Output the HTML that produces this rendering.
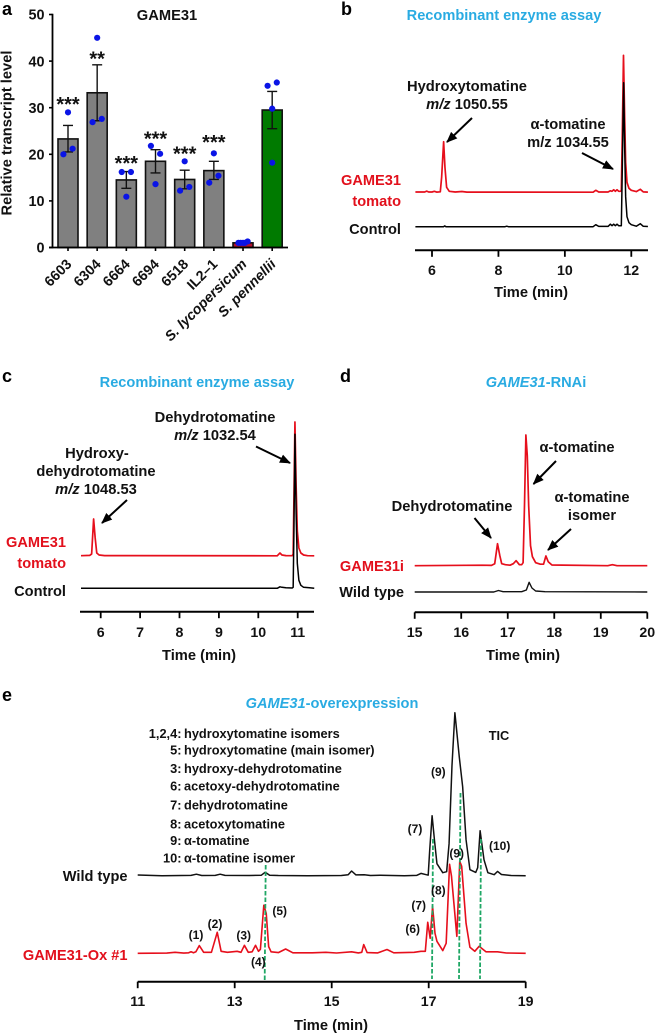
<!DOCTYPE html>
<html lang="en">
<head>
<meta charset="utf-8">
<title>GAME31 figure</title>
<style>
html,body{margin:0;padding:0;background:#fff;}
body{width:655px;height:1034px;overflow:hidden;}
svg{display:block;font-family:"Liberation Sans",sans-serif;font-weight:bold;filter:blur(0.3px);}
svg text{fill:#111;}
.t{font-size:14.5px;}
.h{font-size:14.6px;fill:#29abe2 !important;text-anchor:middle;}
.r{fill:#e2101c !important;text-anchor:end;font-size:14.6px;}
.k{text-anchor:end;font-size:14.6px;}
.m{text-anchor:middle;font-size:14.7px;}
.l{font-size:18px;fill:#000 !important;}
.li{font-size:12.8px;}
.p{font-size:12px;text-anchor:middle;}
.arrow{stroke:#000;stroke-width:2;fill:none;marker-end:url(#arrowhead);}
.guide{stroke:#1fa765;stroke-width:1.8;stroke-dasharray:4.5 2;fill:none;}
</style>
</head>
<body>
<svg id="figure" width="655" height="1034" viewBox="0 0 655 1034" xmlns="http://www.w3.org/2000/svg">
<defs>
<marker id="arrowhead" markerUnits="userSpaceOnUse" markerWidth="12" markerHeight="10" refX="10" refY="5" orient="auto"><path d="M0,0.5 L11,5 L0,9.5 Z" fill="#000"/></marker>
</defs>
<rect width="655" height="1034" fill="#fff"/>

<!-- panel letters -->
<text class="l" x="2" y="15">a</text>
<text class="l" x="341" y="15">b</text>
<text class="l" x="2" y="382">c</text>
<text class="l" x="340" y="382">d</text>
<text class="l" x="2" y="701">e</text>

<!-- panel a static text -->
<g id="panel-a"></g>
<text class="m" x="167" y="20">GAME31</text>
<text class="m" transform="translate(11.5,133) rotate(-90)">Relative transcript level</text>

<!-- panel b -->
<text class="h" x="504" y="20">Recombinant enzyme assay</text>
<g id="panel-b"></g>
<text class="m" x="467" y="91">Hydroxytomatine</text>
<text class="m" x="467" y="109"><tspan font-style="italic">m/z</tspan> 1050.55</text>
<line class="arrow" x1="472" y1="118" x2="447" y2="142"/>
<text class="m" x="568" y="129">α-tomatine</text>
<text class="m" x="568" y="147">m/z 1034.55</text>
<line class="arrow" x1="582" y1="153" x2="613" y2="169"/>
<text class="r" x="401" y="185">GAME31</text>
<text class="r" x="401" y="206">tomato</text>
<text class="k" x="401" y="234">Control</text>
<text class="m" x="531" y="297">Time (min)</text>

<!-- panel c -->
<text class="h" x="197" y="387">Recombinant enzyme assay</text>
<g id="panel-c"></g>
<text class="m" x="215" y="422">Dehydrotomatine</text>
<text class="m" x="215" y="440"><tspan font-style="italic">m/z</tspan> 1032.54</text>
<line class="arrow" x1="256" y1="446.5" x2="290" y2="463"/>
<text class="m" x="97" y="458">Hydroxy-</text>
<text class="m" x="96" y="476">dehydrotomatine</text>
<text class="m" x="96" y="494"><tspan font-style="italic">m/z</tspan> 1048.53</text>
<line class="arrow" x1="127" y1="500" x2="102" y2="523"/>
<text class="r" x="66" y="547">GAME31</text>
<text class="r" x="66" y="568">tomato</text>
<text class="k" x="66" y="596">Control</text>
<text class="m" x="199" y="660">Time (min)</text>

<!-- panel d -->
<text class="h" x="536" y="387"><tspan font-style="italic">GAME31</tspan>-RNAi</text>
<g id="panel-d"></g>
<text class="m" x="577" y="452">α-tomatine</text>
<line class="arrow" x1="556" y1="461" x2="533.5" y2="484"/>
<text class="m" x="452" y="511">Dehydrotomatine</text>
<line class="arrow" x1="474.5" y1="518" x2="491" y2="538"/>
<text class="m" x="592" y="502">α-tomatine</text>
<text class="m" x="592" y="520">isomer</text>
<line class="arrow" x1="571" y1="529" x2="548" y2="550"/>
<text class="r" x="404" y="571">GAME31i</text>
<text class="k" x="404" y="597">Wild type</text>
<text class="m" x="523" y="660">Time (min)</text>

<!-- panel e -->
<text class="h" x="332" y="708"><tspan font-style="italic">GAME31</tspan>-overexpression</text>
<g id="panel-e"></g>
<line class="guide" x1="265.7" y1="865" x2="264.7" y2="980"/>
<line class="guide" x1="433" y1="839" x2="432" y2="979"/>
<line class="guide" x1="460.5" y1="793" x2="459" y2="979"/>
<line class="guide" x1="481" y1="839" x2="480" y2="979"/>
<g>
<text class="li"><tspan x="181.5" y="738" text-anchor="end">1,2,4:</tspan><tspan x="184" y="738">hydroxytomatine isomers</tspan></text>
<text class="li"><tspan x="181.5" y="754.5" text-anchor="end">5:</tspan><tspan x="184" y="754.5">hydroxytomatine (main isomer)</tspan></text>
<text class="li"><tspan x="181.5" y="773" text-anchor="end">3:</tspan><tspan x="184" y="773">hydroxy-dehydrotomatine</tspan></text>
<text class="li"><tspan x="181.5" y="790.5" text-anchor="end">6:</tspan><tspan x="184" y="790.5">acetoxy-dehydrotomatine</tspan></text>
<text class="li"><tspan x="181.5" y="809.5" text-anchor="end">7:</tspan><tspan x="184" y="809.5">dehydrotomatine</tspan></text>
<text class="li"><tspan x="181.5" y="828.5" text-anchor="end">8:</tspan><tspan x="184" y="828.5">acetoxytomatine</tspan></text>
<text class="li"><tspan x="181.5" y="845" text-anchor="end">9:</tspan><tspan x="184" y="845">α-tomatine</tspan></text>
<text class="li"><tspan x="181.5" y="862.5" text-anchor="end">10:</tspan><tspan x="184" y="862.5">α-tomatine isomer</tspan></text>
</g>
<text class="li" x="499" y="740" text-anchor="middle">TIC</text>
<text class="k" x="127.5" y="881">Wild type</text>
<text class="r" x="127.5" y="960">GAME31-Ox #1</text>
<text class="p" x="196" y="939">(1)</text>
<text class="p" x="215" y="928">(2)</text>
<text class="p" x="243.7" y="939.5">(3)</text>
<text class="p" x="258.3" y="966">(4)</text>
<text class="p" x="279.7" y="915">(5)</text>
<text class="p" x="438.3" y="776">(9)</text>
<text class="p" x="415" y="833">(7)</text>
<text class="p" x="499.7" y="850">(10)</text>
<text class="p" x="456.7" y="857.5">(9)</text>
<text class="p" x="438.3" y="894.5">(8)</text>
<text class="p" x="418.7" y="909.5">(7)</text>
<text class="p" x="412.7" y="933">(6)</text>
<text class="m" x="331" y="1030">Time (min)</text>
</svg>

<script>
// ---------- Panel a data ----------
const barCategories = ['6603','6304','6664','6694','6518','IL2–1','S. lycopersicum','S. pennellii'];
const barValues = [23.3,33.2,14.5,18.5,14.6,16.5,1.0,29.5];
const barErrLow = [20.5,27.2,12.7,16.0,12.6,14.6,0.9,25.5];
const barErrHigh = [26.2,39.2,16.3,21.0,16.6,18.5,1.1,33.5];
const barColors = ['#808080','#808080','#808080','#808080','#808080','#808080','#b3122f','#007a00'];
const barStars = ['***','**','***','***','***','***','',''];
const barStarLevels = [31.8,41.5,19.1,24.4,21.2,23.6,0,0];
const barPoints = [[20.0,29.0,21.2],[26.9,45.0,27.6],[16.2,10.9,16.2],[21.8,13.6,20.1],[12.2,18.5,13.0],[13.9,20.2,15.4],[1.0,1.0,1.0,1.0,1.3],[34.7,29.8,18.2,35.4]];
const barPointSlots = [[-1,0,1],[-1,0,1],[-1,0,1],[-1,0,1],[-1,0,1],[-1,0,1],[-1,-0.5,0,0.4,1],[-1,0,0,1]];
const barTicks = [0,10,20,30,40,50];

// ---------- Panel b data ----------
const bTicks = [6,8,10,12];
const bRedTime = [5.5,5.78,5.84,5.9,6.0,6.07,6.14,6.25,6.29,6.35,6.39,6.44,6.52,6.7,6.9,7.05,10.85,10.93,11.02,11.3,11.37,11.42,11.47,11.52,11.57,11.62,11.67,11.7,11.73,11.765,11.8,11.83,11.87,11.93,12.0,12.15,12.27,12.36,12.5];
const bRedSig = [0.3,0.3,1.2,0.3,0.3,1,0.2,0.5,15,50.6,25,5,1,0.3,0.8,0.2,0.1,2,0.3,0.3,1.5,1,2.5,1,2.5,1,1,1.5,60,137,75,30,10,4,2,0.7,3,0.4,0.2];
const bBlackTime = [5.5,6.35,6.38,6.42,8.2,8.25,8.3,10.85,10.93,11.02,11.3,11.37,11.42,11.47,11.52,11.57,11.62,11.67,11.7,11.73,11.77,11.8,11.83,11.87,11.93,12.0,12.15,12.27,12.36,12.5];
const bBlackSig = [0,0,0.8,0,0,0.5,0,0,2,0.3,0.3,2.5,1,2.5,1,2.5,1,1,1,60,144,80,30,10,4,2,0.5,3,0.4,0.2];

// ---------- Panel c data ----------
const cTicks = [6,7,8,9,10,11];
const cRedTime = [5.5,5.72,5.77,5.82,5.86,5.9,5.96,6.1,10.48,10.55,10.6,10.7,10.86,10.885,10.905,10.93,10.96,10.99,11.03,11.08,11.15,11.25,11.42];
const cRedSig = [0.3,0.6,2,37,18,3,1,0.4,0.2,3,1,0.4,0.3,2,60,134,70,25,8,3,1,0.3,0.2];
const cBlackTime = [5.5,10.48,10.55,10.6,10.7,10.86,10.885,10.905,10.93,10.96,10.99,11.03,11.08,11.15,11.3,11.42];
const cBlackSig = [0,0,1.5,1,0.5,0.3,1,60,154,75,25,8,3,1,0.5,0];

// ---------- Panel d data ----------
const dTicks = [15,16,17,18,19,20];
const dRedTime = [15,16.45,16.65,16.72,16.78,16.83,16.87,16.95,17.05,17.12,17.18,17.25,17.3,17.33,17.36,17.39,17.42,17.45,17.49,17.53,17.6,17.7,17.77,17.82,17.87,17.95,19.15,19.25,19.35,20];
const dRedSig = [0,0.5,0.3,2,22,10,2,1,0.5,2,5,1,1,3,60,130.7,110,60,20,9,3,1.5,1.5,9.7,4,0.7,0,1,0,0];
const dBlackTime = [15,16.7,16.8,16.9,17.3,17.4,17.46,17.52,17.6,17.8,20];
const dBlackSig = [0,0,1.5,0.3,0.3,2,9.7,4,1,0.3,0];

// ---------- Panel e data ----------
const eTicks = [11,13,15,17,19];
const eBlackTime = [11,11.5,12.1,12.21,12.32,12.6,12.7,12.8,13.3,13.55,13.63,13.72,13.9,14.5,15.2,15.34,15.41,15.5,15.67,15.8,16.0,16.5,16.75,16.84,16.95,16.99,17.02,17.07,17.12,17.17,17.29,17.37,17.42,17.48,17.54,17.63,17.7,17.77,17.85,17.97,18.01,18.06,18.14,18.22,18.35,18.42,18.5,18.7,19];
const eBlackSig = [0.7,0,0.3,1.5,0.2,0.3,1.5,0.3,0.2,0.5,3.5,0.5,0.2,0,0.2,1,4.7,0.8,1,0.2,0.5,0,0.3,2.3,1,0.6,25,60,35,12,3,4,32,110,163,119,89,36,6,3.3,8,45,16,3,1,4.3,1.2,0.2,0];
const eRedTime = [11,11.6,11.77,11.95,12.05,12.1,12.15,12.2,12.27,12.36,12.52,12.64,12.72,12.85,13.05,13.13,13.2,13.28,13.36,13.43,13.49,13.53,13.6,13.65,13.7,13.75,13.9,14.05,14.2,14.6,14.88,15.1,15.41,15.55,15.62,15.66,15.73,15.95,16.14,16.28,16.7,16.84,16.93,16.98,17.03,17.08,17.13,17.17,17.29,17.36,17.43,17.47,17.58,17.64,17.68,17.77,17.85,17.95,18.04,18.18,18.42,18.6,19];
const eRedSig = [0,0.2,1,0.2,0.5,1.5,0.5,1.5,7.7,1,1,21,2,1,2,1,8,1,1.5,8,2,4,48,40,6.7,1.5,0.7,4.3,0.5,0.5,1,0.3,1.5,0.4,1,8.7,0.7,0.4,3.8,0.5,1,2,2,31,15,47,20,12,2.7,10,89,77,17,92,87,30,6,2,7,1.5,1.5,0.3,0];

// ---------- Drawing ----------
const NS = 'http://www.w3.org/2000/svg';
function svgEl(tag, parent){
  const el = document.createElementNS(NS, tag);
  parent.appendChild(el);
  return el;
}
function linear(d0, d1, r0, r1){
  return v => r0 + (v - d0) * (r1 - r0) / (d1 - d0);
}
function setLine(el, x1, y1, x2, y2, w, color){
  el.setAttribute('x1', x1);
  el.setAttribute('y1', y1);
  el.setAttribute('x2', x2);
  el.setAttribute('y2', y2);
  el.setAttribute('stroke', color || '#000');
  el.setAttribute('stroke-width', w);
}
function drawTimeAxis(g, ticks, xScale, axisY, x0, x1, tickLen, baseline){
  const axis = svgEl('line', g);
  
  
  setLine(axis, x0, axisY, x1, axisY, 2);
  ticks.forEach(v => {
    const tk = svgEl('line', g);
    
    
    setLine(tk, xScale(v), axisY, xScale(v), axisY + tickLen, 1.8);
    const lb = svgEl('text', g);
    
    
    lb.setAttribute('x', xScale(v));
    lb.setAttribute('y', baseline);
    lb.setAttribute('text-anchor', 'middle');
    lb.setAttribute('font-size', '14.2');
    lb.textContent = v;
  });
}
function drawTrace(g, times, signal, xScale, base, color, name, width){
  const ySignal = linear(0, 100, base, base - 100);
  const p = svgEl('polyline', g);
  
  
  p.setAttribute('points', times.map((t, i) => xScale(t).toFixed(2) + ',' + ySignal(signal[i]).toFixed(2)).join(' '));
  p.setAttribute('fill', 'none');
  p.setAttribute('stroke', color);
  p.setAttribute('stroke-width', width || 1.5);
  p.setAttribute('stroke-linejoin', 'round');
}

// Panel a
(function(){
  const g = document.getElementById('panel-a');
  const yA = linear(0, 50, 247.5, 14.5);
  const xA = i => 68 + i * 29.17;
  barCategories.forEach((c, i) => {
    const bar = svgEl('rect', g);
    
    
    bar.setAttribute('x', xA(i) - 10);
    bar.setAttribute('y', yA(barValues[i]));
    bar.setAttribute('width', 20);
    bar.setAttribute('height', yA(0) - yA(barValues[i]));
    bar.setAttribute('fill', barColors[i]);
    bar.setAttribute('stroke', '#111');
    bar.setAttribute('stroke-width', 1.6);

    if (i !== 6) {
      const err = svgEl('path', g);
      
      
      const lo = yA(barErrLow[i]), hi = yA(barErrHigh[i]), cx = xA(i);
      err.setAttribute('d', 'M' + (cx - 5) + ',' + hi + 'H' + (cx + 5) + 'M' + cx + ',' + hi + 'V' + lo + 'M' + (cx - 5) + ',' + lo + 'H' + (cx + 5));
      err.setAttribute('stroke', '#111');
      err.setAttribute('stroke-width', 1.4);
      err.setAttribute('fill', 'none');
    }

    const tk = svgEl('line', g);
    
    
    setLine(tk, xA(i), 247.5, xA(i), 251, 1.6);

    const lb = svgEl('text', g);
    
    
    lb.setAttribute('text-anchor', 'end');
    lb.setAttribute('font-size', '14.2');
    if (c.indexOf('S. ') === 0) lb.setAttribute('font-style', 'italic');
    lb.setAttribute('transform', 'translate(' + (xA(i) + 4.5) + ',265) rotate(-45)');
    lb.textContent = c;

    if (barStars[i]) {
      const st = svgEl('text', g);
      
      
      st.setAttribute('x', xA(i));
      st.setAttribute('y', yA(barStarLevels[i]) + 11.6);
      st.setAttribute('text-anchor', 'middle');
      st.setAttribute('font-size', '20');
      st.textContent = barStars[i];
    }

    barPoints[i].forEach((v, j) => {
      const dot = svgEl('circle', g);
      
      
      dot.setAttribute('cx', xA(i) + barPointSlots[i][j] * 4.6);
      dot.setAttribute('cy', yA(v));
      dot.setAttribute('r', 3.1);
      dot.setAttribute('fill', '#0a14e6');
    });
  });
  const yLine = svgEl('line', g);
  
  
  setLine(yLine, 52.5, yA(50) - 0.8, 52.5, yA(0) + 0.8, 1.8);
  const xLine = svgEl('line', g);
  
  
  setLine(xLine, 49, yA(0), 288, yA(0), 1.8);
  barTicks.forEach(v => {
    const tk = svgEl('line', g);
    
    
    setLine(tk, 49, yA(v), 52.5, yA(v), 1.6);
    const lb = svgEl('text', g);
    
    
    lb.setAttribute('x', 44.5);
    lb.setAttribute('y', yA(v) + 5.2);
    lb.setAttribute('text-anchor', 'end');
    lb.setAttribute('font-size', '14.4');
    lb.textContent = v;
  });
})();

// Panel b
(function(){
  const g = document.getElementById('panel-b');
  const x = linear(6, 12, 432, 631.3);
  drawTrace(g, bRedTime, bRedSig, x, 192.3, '#e60f1c', 'game31-tomato-trace', 1.7);
  drawTrace(g, bBlackTime, bBlackSig, x, 226.7, '#000', 'control-trace', 1.5);
  drawTimeAxis(g, bTicks, x, 250.3, 415, 648, 6.5, 275);
})();

// Panel c
(function(){
  const g = document.getElementById('panel-c');
  const x = linear(6, 11, 100.7, 297.7);
  drawTrace(g, cRedTime, cRedSig, x, 556, '#e60f1c', 'game31-tomato-trace', 1.7);
  drawTrace(g, cBlackTime, cBlackSig, x, 588.3, '#000', 'control-trace', 1.5);
  drawTimeAxis(g, cTicks, x, 611.7, 80, 314, 6.5, 637);
})();

// Panel d
(function(){
  const g = document.getElementById('panel-d');
  const x = linear(15, 20, 414.7, 647.3);
  drawTrace(g, dRedTime, dRedSig, x, 565.7, '#e60f1c', 'game31i-trace', 1.7);
  drawTrace(g, dBlackTime, dBlackSig, x, 592, '#111', 'wild-type-trace', 1.4);
  drawTimeAxis(g, dTicks, x, 612.3, 414.7, 647.3, 6.5, 637);
})();

// Panel e
(function(){
  const g = document.getElementById('panel-e');
  const x = linear(11, 19, 137.7, 525.7);
  drawTrace(g, eBlackTime, eBlackSig, x, 875.7, '#111', 'wild-type-trace', 1.5);
  drawTrace(g, eRedTime, eRedSig, x, 953.3, '#e60f1c', 'game31-ox-trace', 1.6);
  drawTimeAxis(g, eTicks, x, 981.7, 137.7, 525.7, 6.5, 1006);
})();
</script>
</body>
</html>
